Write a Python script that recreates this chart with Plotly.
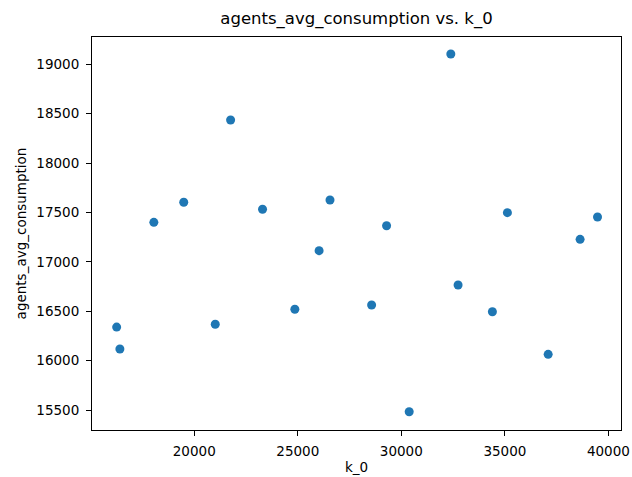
import plotly.graph_objects as go

# Sampled runs: initial capital k_0 and resulting average consumption
k_0 = [32390, 21756, 18049, 19493, 23298, 26556, 26030, 29288, 35123, 39474,
       38633, 32741, 24858, 28565, 34398, 16254, 16410, 21015, 30380, 37091]
agents_avg_consumption = [19104, 18436, 17400, 17603, 17532, 17626, 17113, 17366, 17498, 17454,
                          17228, 16766, 16520, 16563, 16495, 16340, 16118, 16368, 15483, 16064]

x_ticks = [20000, 25000, 30000, 35000, 40000]
y_ticks = [15500, 16000, 16500, 17000, 17500, 18000, 18500, 19000]

FONT = "DejaVu Sans"

fig = go.Figure(
    go.Scatter(
        x=k_0,
        y=agents_avg_consumption,
        mode="markers",
        marker=dict(color="#1f77b4", size=9, line=dict(width=0)),
    )
)

axis_common = dict(
    showline=True,
    linecolor="black",
    linewidth=1.1,
    mirror=True,
    ticks="outside",
    ticklen=5,
    tickwidth=1.1,
    tickcolor="black",
    showgrid=False,
    zeroline=False,
    automargin=False,
    tickfont=dict(family=FONT, size=13.5, color="black"),
    title_font=dict(family=FONT, size=13.5, color="black"),
)

fig.update_xaxes(
    range=[15063, 40608],
    tickvals=x_ticks,
    ticktext=[str(v) for v in x_ticks],
    title_text="k_0",
    title_standoff=4,
    ticklabelstandoff=4,
    **axis_common,
)
fig.update_yaxes(
    range=[15298, 19276],
    tickvals=y_ticks,
    ticktext=[str(v) for v in y_ticks],
    title_text="agents_avg_consumption",
    title_standoff=6,
    ticklabelstandoff=4,
    **axis_common,
)

fig.update_layout(
    width=632,
    height=477,
    margin=dict(l=92, r=11, t=37, b=47),
    paper_bgcolor="white",
    plot_bgcolor="white",
    showlegend=False,
    title=dict(
        text="agents_avg_consumption vs. k_0",
        x=(92 + 621) / 2 / 632,
        xanchor="center",
        y=1 - 18 / 477,
        yanchor="middle",
        font=dict(family=FONT, size=16.5, color="black"),
    ),
)

fig.write_html("out.html")
